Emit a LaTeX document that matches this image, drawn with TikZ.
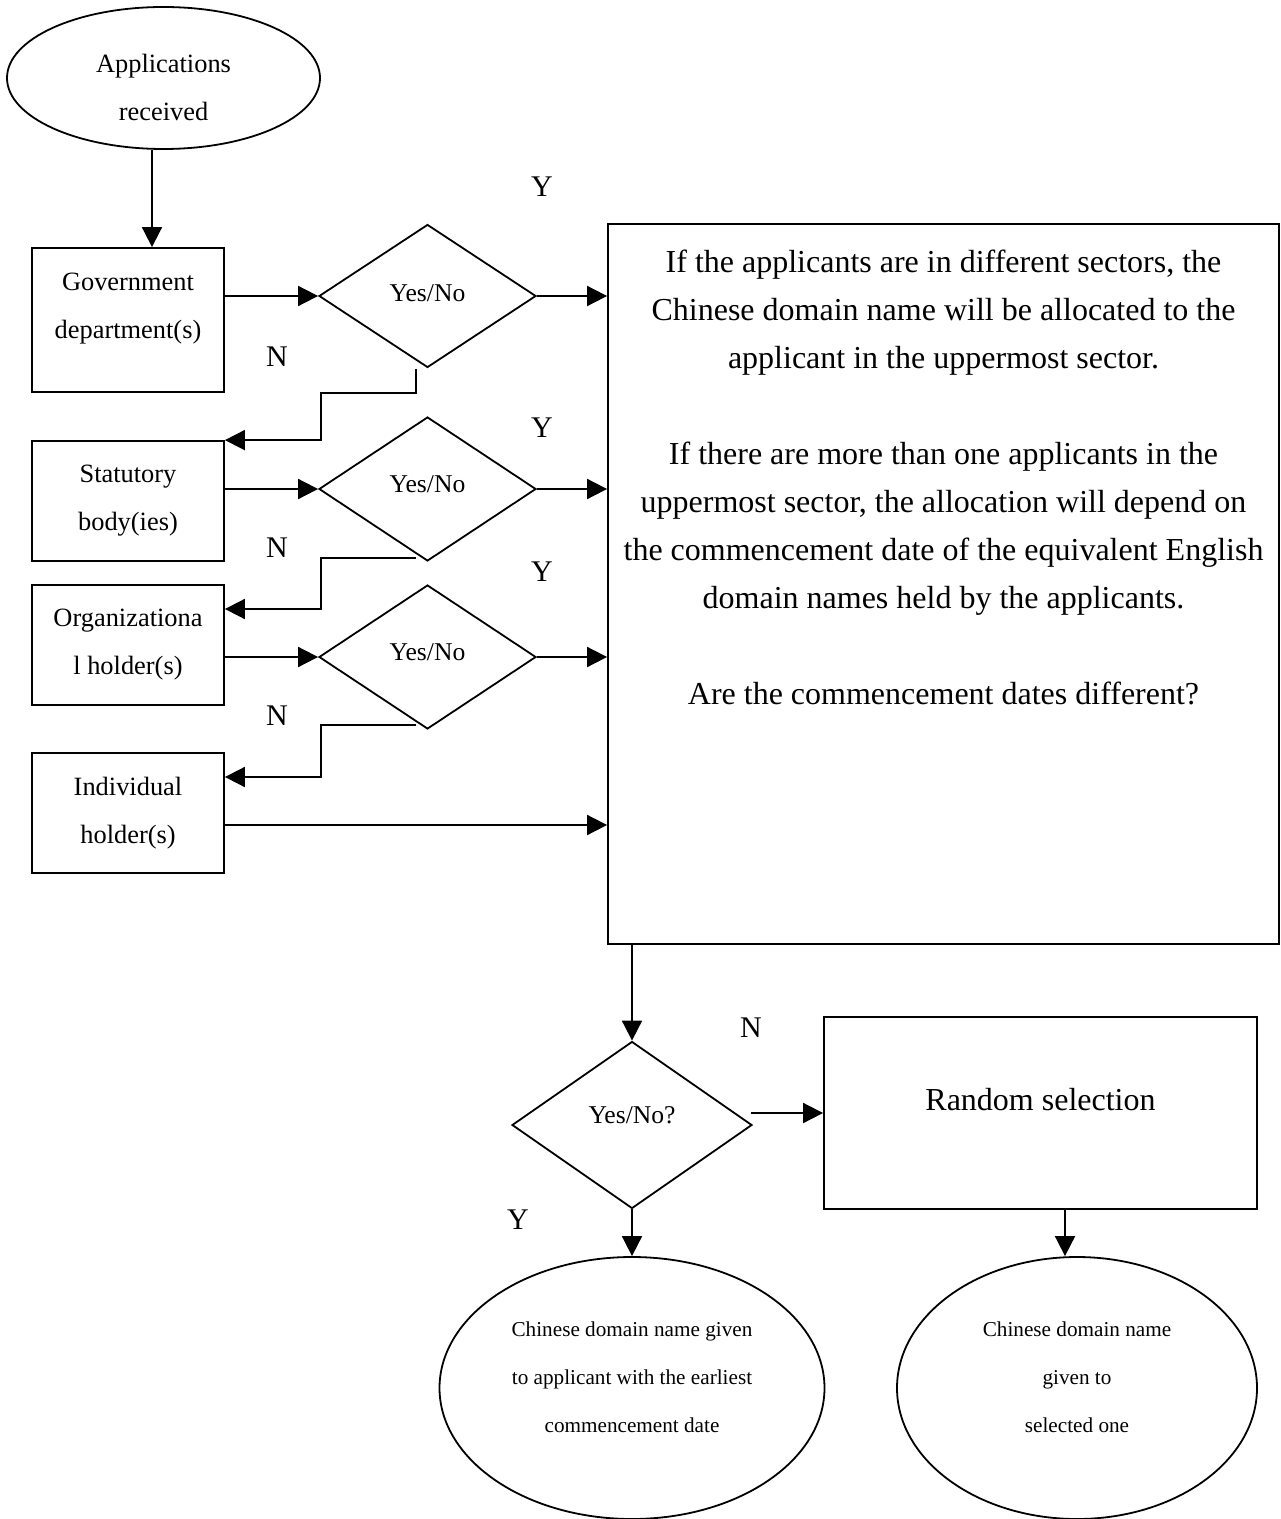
\documentclass[tikz,border=0pt]{standalone}
\usepackage{fontspec}
\setmainfont{Liberation Serif}
\usetikzlibrary{shapes.geometric,arrows.meta}
\begin{document}
\begin{tikzpicture}[x=0.5pt,y=-0.5pt,
  line width=0.9pt,
  arr/.style={-{Triangle[length=10pt,width=10pt]}},
  boxnode/.style={draw, rectangle, inner sep=0pt},
  dia/.style={draw, diamond, inner sep=0pt},
  oval/.style={draw, ellipse, inner sep=0pt},
  txt/.style={align=center, inner sep=0pt, font=\fontsize{13.2}{24}\selectfont},
  yntxt/.style={align=center, inner sep=0pt, font=\fontsize{12.8}{24}\selectfont},
  bigtxt/.style={align=center, inner sep=0pt, font=\fontsize{16}{24}\selectfont},
  smalltxt/.style={align=center, inner sep=0pt, font=\fontsize{10.6}{24}\selectfont},
  lab/.style={inner sep=0pt, font=\fontsize{15}{18}\selectfont}
]
\useasboundingbox (0,0) rectangle (1280,1519);

% shapes
\node[oval, minimum width=156.5pt, minimum height=71pt] (app) at (163.5,78) {};
\node[boxnode, minimum width=96pt, minimum height=72pt] (gov) at (128,320) {};
\node[boxnode, minimum width=96pt, minimum height=60pt] (stat) at (128,501) {};
\node[boxnode, minimum width=96pt, minimum height=60pt] (org) at (128,645) {};
\node[boxnode, minimum width=96pt, minimum height=60pt] (ind) at (128,813) {};
\node[dia, minimum width=108.5pt, minimum height=71.5pt] (d1) at (427.5,296) {};
\node[dia, minimum width=108.5pt, minimum height=72pt] (d2) at (427.5,489) {};
\node[dia, minimum width=108.5pt, minimum height=72pt] (d3) at (427.5,657) {};
\node[boxnode, minimum width=335.5pt, minimum height=360pt] (big) at (943.5,584) {};
\node[dia, minimum width=120pt, minimum height=83.5pt] (d4) at (632,1125) {};
\node[boxnode, minimum width=216.5pt, minimum height=96pt] (rand) at (1040.5,1113) {};
\node[oval, minimum width=192.5pt, minimum height=131pt] (ell1) at (632,1388) {};
\node[oval, minimum width=180pt, minimum height=131pt] (ell2) at (1077,1388) {};

% texts
\node[txt] (t-app) at (163.5,87) {Applications\\received};
\node[txt] (t-gov) at (128,309) {Government\\department(s)};
\node[txt] (t-stat) at (128,501) {Statutory\\body(ies)};
\node[txt] (t-org) at (128,645) {Organizationa\\l holder(s)};
\node[txt] (t-ind) at (128,813) {Individual\\holder(s)};
\node[yntxt] (t-d1) at (427.5,293) {Yes/No};
\node[yntxt] (t-d2) at (427.5,484) {Yes/No};
\node[yntxt] (t-d3) at (427.5,652) {Yes/No};
\node[yntxt] (t-d4) at (632,1115) {Yes/No?};
\node[bigtxt] (t-big) at (943.5,477) {If the applicants are in different sectors, the\\
Chinese domain name will be allocated to the\\
applicant in the uppermost sector.\\[24pt]
If there are more than one applicants in the\\
uppermost sector, the allocation will depend on\\
the commencement date of the equivalent English\\
domain names held by the applicants.\\[24pt]
Are the commencement dates different?};
\node[bigtxt] (t-rand) at (1040.5,1100) {Random selection};
\node[smalltxt] (t-ell1) at (632,1377) {Chinese domain name given\\to applicant with the earliest\\commencement date};
\node[smalltxt] (t-ell2) at (1077,1377) {Chinese domain name\\given to\\selected one};

% Y / N labels
\node[lab] (y1) at (542,187) {Y};
\node[lab] (y2) at (542,428) {Y};
\node[lab] (y3) at (542,572) {Y};
\node[lab] (y4) at (518,1220) {Y};
\node[lab] (n1) at (277,357) {N};
\node[lab] (n2) at (277,548) {N};
\node[lab] (n3) at (277,716) {N};
\node[lab] (n4) at (751,1028) {N};

% helper coordinates
\coordinate (a1) at (152,0);
\coordinate (p1a) at (416,369);
\coordinate (p1b) at (416,393);
\coordinate (p1c) at (321,393);
\coordinate (p2a) at (416,558);
\coordinate (p2b) at (321,558);
\coordinate (p2c) at (321,609);
\coordinate (p3a) at (416,725);
\coordinate (p3b) at (321,725);
\coordinate (p3c) at (321,777);
\coordinate (i1) at (0,825);
\coordinate (r1) at (751,1113);
\coordinate (r2) at (1065,0);

% connectors
\draw[arr] (app.south -| a1) -- (gov.north -| a1);
\draw[arr] (gov.east |- d1.west) -- (d1.west);
\draw[arr] (stat.east |- d2.west) -- (d2.west);
\draw[arr] (org.east |- d3.west) -- (d3.west);
\draw[arr] (d1.east) -- (big.west |- d1.east);
\draw[arr] (d2.east) -- (big.west |- d2.east);
\draw[arr] (d3.east) -- (big.west |- d3.east);
\draw[arr] (ind.east |- i1) -- (big.west |- i1);
\draw[arr] (p1a) -- (p1b) -- (p1c) |- (stat.north east);
\draw[arr] (p2a) -- (p2b) -- (p2c) -- (org.east |- p2c);
\draw[arr] (p3a) -- (p3b) -- (p3c) -- (ind.east |- p3c);
\draw[arr] (big.south -| d4.north) -- (d4.north);
\draw[arr] (r1) -- (rand.west |- r1);
\draw[arr] (d4.south) -- (ell1.north);
\draw[arr] (rand.south -| r2) -- (ell2.north -| r2);
\end{tikzpicture}
\end{document}
